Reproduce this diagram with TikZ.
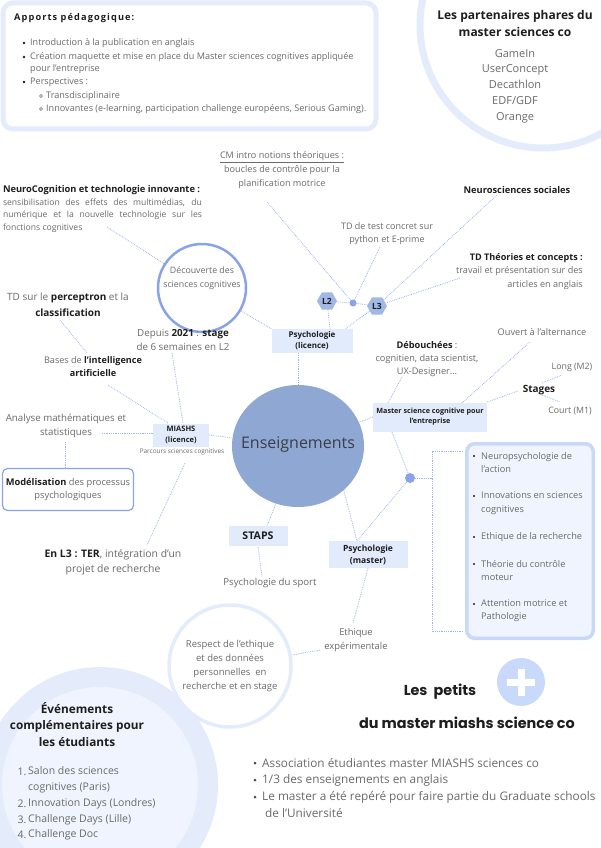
\documentclass[tikz,border=0pt]{standalone}
\usepackage{fontspec}
\setmainfont{Open Sans}
\newfontfamily\popfont{Poppins}
\newfontfamily\spacedfont{Open Sans}[LetterSpace=12]
\usetikzlibrary{shapes.geometric,calc,backgrounds}
\definecolor{lineblue}{HTML}{9DB4E8}
\definecolor{boxblue}{HTML}{E1EBFB}
\definecolor{ellblue}{HTML}{8FA7D3}
\definecolor{ringblue}{HTML}{E4ECFC}
\definecolor{paleblue}{HTML}{EFF4FE}
\definecolor{circblue}{HTML}{89A3E6}
\definecolor{hexblue}{HTML}{A2B8E4}
\definecolor{listborder}{HTML}{C8D8F8}
\definecolor{plusblue}{HTML}{C9D9F9}
\definecolor{tgray}{HTML}{6A6A6A}
\definecolor{tdark}{HTML}{1E1E1E}
\definecolor{enstext}{HTML}{3A3E4A}
\newcommand\myfs[2]{\fontsize{#1}{#2}\selectfont}
\newcommand\bk[1]{{\color{tdark}\bfseries #1}}
\begin{document}
\begin{tikzpicture}[x=1pt,y=-1pt,
  conn/.style={draw=lineblue, densely dotted, line width=0.8pt},
  txt/.style={text=tgray, inner sep=0pt, align=center},
  btxt/.style={text=tdark, inner sep=0pt, align=center},
  lbox/.style={fill=boxblue, inner sep=0pt, align=center, text=tdark},
  ltxt/.style={text=tgray, inner sep=0pt, anchor=west, align=left},
  dotnode/.style={circle, fill=circblue, inner sep=0pt},
  hexnode/.style={regular polygon, regular polygon sides=6, fill=hexblue, minimum size=20pt, inner sep=0pt, text=tdark, font=\bfseries\myfs{8.5}{9}},
]
\useasboundingbox (0,0) rectangle (600,848);

% ---------- top-left box ----------
\draw[draw=ringblue, line width=5pt, fill=white, rounded corners=10pt] (3,3) rectangle (376,129);
\node[anchor=west, text=tdark, inner sep=0pt] (apt) at (14,18) {\spacedfont\bfseries\myfs{9.2}{10}Apports pédagogique:};
\fill[tdark] (24,43) circle (1.3pt);
\fill[tdark] (24,57) circle (1.3pt);
\fill[tdark] (24,82) circle (1.3pt);
\draw[tgray, line width=0.5pt] (41,96) circle (1.6pt);
\draw[tgray, line width=0.5pt] (41,109) circle (1.6pt);
\node[ltxt, font=\myfs{9.1}{12.5}] (ap1) at (30,43) {Introduction à la publication en anglais};
\node[ltxt, font=\myfs{9.1}{12.5}] (ap2) at (30,63) {Création maquette et mise en place du Master sciences cognitives appliquée\\pour l'entreprise};
\node[ltxt, font=\myfs{9.1}{12.5}] (ap3) at (30,82) {Perspectives :};
\node[ltxt, font=\myfs{9.1}{12.5}] (ap4) at (46,96) {Transdisciplinaire};
\node[ltxt, font=\myfs{9.1}{12.5}] (ap5) at (46,109) {Innovantes (e-learning, participation challenge européens, Serious Gaming).};

% ---------- top-right ----------
\node[btxt, font=\bfseries\myfs{12}{17}] (part) at (515,24) {Les partenaires phares du\\master sciences co};
\node[txt, font=\myfs{11}{15.75}] (partl) at (515,86) {GameIn\\UserConcept\\Decathlon\\EDF/GDF\\Orange};

% ---------- central ----------
\node[ellipse, fill=ellblue, minimum width=132pt, minimum height=122pt, inner sep=0pt] (ens) at (298,446) {};
\node[inner sep=0pt, text=enstext, font=\myfs{16}{18}] (enst) at (298,445) {Enseignements};

\node[lbox, minimum width=81pt, minimum height=24pt, font=\bfseries\myfs{8}{11}] (psyL) at (312,341) {Psychologie\\(licence)};
\node[hexnode] (L2) at (327,301) {L2};
\node[hexnode] (L3) at (377,306) {L3};
\node[dotnode, minimum size=7pt] (dot1) at (353,303) {};

\node[circle, draw=circblue, line width=2.5pt, minimum size=88pt, inner sep=0pt] (decouv) at (202,288) {};
\node[txt, font=\myfs{8.8}{14}] (decouvt) at (202,278) {Découverte des\\sciences cognitives};

\node[txt, font=\myfs{9.1}{14}] (cm) at (282,170) {\underline{CM intro notions théoriques :}\\boucles de contrôle pour la\\planification motrice};
\node[inner sep=0pt, text width=199pt, align=justify, text=tgray, font=\myfs{8.6}{12.5}] (neur) at (102.5,209) {{\color{tdark}\bfseries\myfs{9.3}{12.5}NeuroCognition et technologie innovante :}\\sensibilisation des effets des multimédias, du\linebreak numérique et la nouvelle technologie sur les\linebreak fonctions cognitives};
\node[txt, font=\myfs{9}{13.5}] (tdtest) at (387,233.5) {TD de test concret sur\\python et E-prime};
\node[btxt, font=\bfseries\myfs{9.3}{10}] (neurosoc) at (517,190) {Neurosciences sociales};
\node[anchor=east, align=right, inner sep=0pt, text=tgray, font=\myfs{9.1}{13.5}] (tdth) at (583,271.5) {\bk{TD Théories et concepts :}\\travail et présentation sur des\\articles en anglais};

\node[txt, font=\myfs{9.2}{10}] (ouvert) at (542,332) {Ouvert à l'alternance};
\node[txt, font=\myfs{9.2}{13}] (debouch) at (427,359) {\bk{Débouchées} :\\cognitien, data scientist,\\UX-Designer…};
\node[lbox, minimum width=114pt, minimum height=29pt, font=\bfseries\myfs{7.2}{10}] (msc) at (430,417) {Master science cognitive pour\\l'entreprise};
\node[btxt, font=\bfseries\myfs{10}{10}] (stages) at (539,390) {Stages};
\node[txt, font=\myfs{8.8}{10}] (long) at (572,367) {Long (M2)};
\node[txt, font=\myfs{8.8}{10}] (court) at (570,411) {Court (M1)};
\node[dotnode, minimum size=10pt] (dot2) at (410,478) {};

% list box
\node[draw=listborder, line width=3.5pt, fill=paleblue, rounded corners=8pt, minimum width=126.5pt, minimum height=194.5pt, inner sep=0pt] (listbox) at (530,541) {};
\foreach \yy in {456,496,537,564,604} {\fill[tdark] (474,\yy) circle (1.2pt);}
\node[ltxt, font=\myfs{9.2}{13.5}] (li1) at (481,462.5) {Neuropsychologie de\\l'action};
\node[ltxt, font=\myfs{9.2}{13.5}] (li2) at (481,503) {Innovations en sciences\\cognitives};
\node[ltxt, font=\myfs{9.2}{13.5}] (li3) at (481,537) {Ethique de la recherche};
\node[ltxt, font=\myfs{9.2}{13.5}] (li4) at (481,570.5) {Théorie du contrôle\\moteur};
\node[ltxt, font=\myfs{9.2}{13.5}] (li5) at (481,610.5) {Attention motrice et\\Pathologie};

% left side
\node[lbox, minimum width=56pt, minimum height=23pt, font=\bfseries\myfs{7.5}{11.5}] (mia) at (181,435) {MIASHS\\(licence)};
\node[txt, font=\myfs{6.4}{7}] (parc) at (182,452) {Parcours sciences cognitives};
\node[txt, font=\myfs{9.7}{14}] (analyse) at (66,426) {Analyse mathématiques et\\statistiques};
\node[draw=circblue, line width=1.2pt, rounded corners=5pt, fill=white, minimum width=131pt, minimum height=42pt, inner sep=0pt, text=tgray, align=center, font=\myfs{9.3}{13}] (modbox) at (68,489.5) {\bk{Modélisation} des processus\\psychologiques};
\node[txt, font=\myfs{9.1}{13}] (bases) at (93,366.5) {Bases de \bk{l'intelligence}\\\bk{artificielle}};
\node[txt, font=\myfs{10}{16}] (perc) at (68,305) {TD sur le \bk{perceptron} et la\\\bk{classification}};
\node[txt, font=\myfs{9.8}{14}] (depuis) at (183,340) {Depuis \bk{2021} : \bk{stage}\\de 6 semaines en L2};
\node[txt, font=\myfs{10.4}{15}] (enl3) at (113,562.5) {\bk{En L3 : TER}, intégration d'un\\projet de recherche};

% bottom center
\node[lbox, minimum width=59pt, minimum height=20pt, font=\bfseries\myfs{10.6}{11}] (staps) at (258,536) {STAPS};
\node[txt, font=\myfs{9.6}{10}] (sport) at (270,583) {Psychologie du sport};
\node[lbox, minimum width=79pt, minimum height=27pt, font=\bfseries\myfs{8.5}{12}] (psyM) at (368,554.5) {Psychologie\\(master)};
\node[txt, font=\myfs{9.4}{14}] (eth) at (356,640) {Ethique\\expérimentale};
\node[circle, draw=ringblue, line width=3.5pt, fill=white, minimum size=122pt, inner sep=0pt, text=tgray, align=center, font=\myfs{9.5}{14}] (resp) at (230,666) {Respect de l'ethique\\et des données\\personnelles~ en\\recherche et en stage};

% bottom left
\node[btxt, font=\bfseries\myfs{11.8}{16.5}] (evt) at (77,724.5) {Événements\\complémentaires pour\\les étudiants};
\node[anchor=east, inner sep=0pt, text=tgray, font=\myfs{10.5}{10}] (n1) at (26.5,772) {1.};
\node[anchor=east, inner sep=0pt, text=tgray, font=\myfs{10.5}{10}] (n2) at (26.5,804) {2.};
\node[anchor=east, inner sep=0pt, text=tgray, font=\myfs{10.5}{10}] (n3) at (26.5,820) {3.};
\node[anchor=east, inner sep=0pt, text=tgray, font=\myfs{10.5}{10}] (n4) at (26.5,835) {4.};
\node[ltxt, font=\myfs{10.5}{16}] (e1) at (28,780) {Salon des sciences\\cognitives (Paris)};
\node[ltxt, font=\myfs{10.5}{10}] (e2) at (28,804) {Innovation Days (Londres)};
\node[ltxt, font=\myfs{10.5}{10}] (e3) at (28,820) {Challenge Days (Lille)};
\node[ltxt, font=\myfs{10.5}{10}] (e4) at (28,835) {Challenge Doc};

% bottom right
\node[circle, fill=plusblue, minimum size=48pt, inner sep=0pt] (plus) at (521,682) {};
\fill[white] (507,678.5) rectangle (535,686);
\fill[white] (517.5,668.5) rectangle (525,696);
\node[btxt, font=\popfont\bfseries\myfs{14.4}{16}] (petits) at (440,692) {Les~~petits};
\node[btxt, font=\popfont\bfseries\myfs{14.4}{16}] (petits2) at (467,723) {du master miashs science co};
\foreach \yy in {763,780,797} {\fill[tgray!70!black] (255,\yy) circle (1.5pt);}
\node[ltxt, font=\myfs{11.8}{12}] (b1) at (262,763) {Association étudiantes master MIASHS sciences co};
\node[ltxt, font=\myfs{11.8}{12}] (b2) at (262,780) {1/3 des enseignements en anglais};
\node[ltxt, font=\myfs{11.8}{12}] (b3) at (262,797) {Le master a été repéré pour faire partie du Graduate schools};
\node[ltxt, font=\myfs{11.8}{12}] (b4) at (265,813) {de l’Université};

% ---------- connector end points ----------
\coordinate (cmE) at (267,202);
\coordinate (tdtE) at (380,247);
\coordinate (nsE) at (497,195);
\coordinate (tdthE) at (460,278);
\coordinate (psyLa) at (330,329);
\coordinate (psyLb) at (345,329);
\coordinate (neurE) at (107,227);
\coordinate (debE) at (402,377);
\coordinate (mscA) at (388,403);
\coordinate (ouvE) at (530,342);
\coordinate (mscB) at (462,403);
\coordinate (stgW) at (518,391);
\coordinate (mscC) at (487,402);
\coordinate (stgA) at (542,383);
\coordinate (longE) at (562,375);
\coordinate (stgB) at (542,395);
\coordinate (courtE) at (560,402);
\coordinate (mscD) at (392,432);
\coordinate (brA) at (432,478);
\coordinate (brT) at (432,451);
\coordinate (brB) at (432,631);
\coordinate (listT) at (463,451);
\coordinate (listB) at (463,631);
\coordinate (psyMt) at (357,541);
\coordinate (stapsN) at (267,526);
\coordinate (stapsS) at (258,547);
\coordinate (sportE) at (262,577);
\coordinate (psyMb) at (368,568);
\coordinate (ethE) at (353,623);
\coordinate (ethW) at (320,650);
\coordinate (anaE) at (102,433);
\coordinate (anaS) at (65,442);
\coordinate (basesE) at (108,385);
\coordinate (miaA) at (168,423);
\coordinate (percE) at (60,320);
\coordinate (basesT) at (87,353);
\coordinate (depE) at (172,353);
\coordinate (miaT) at (183,423);
\coordinate (miaB) at (185,463);
\coordinate (enlE) at (147,545);

\begin{scope}[on background layer]
  \fill[white] (0,0) rectangle (600,848);
  \draw[ringblue, line width=7pt] (543,25) circle[radius=123pt];
  \fill[ringblue] (100,785) circle[radius=118pt];
  \fill[paleblue] (100,785) circle[radius=98pt];
  \draw[conn] (L2) -- (dot1) -- (L3);
  \draw[conn] (dot1) -- (cmE);
  \draw[conn] (dot1) -- (tdtE);
  \draw[conn] (L3) -- (nsE);
  \draw[conn] (L3) -- (tdthE);
  \draw[conn] (L2) -- (psyLa);
  \draw[conn] (L3) -- (psyLb);
  \draw[conn] (psyL.south -| ens.north) -- (ens.north);
  \draw[conn] (decouv) -- (psyL.north west);
  \draw[conn] (neurE) -- (decouv);
  \draw[conn] (msc.west) -- (ens);
  \draw[conn] (mscA) -- (debE);
  \draw[conn] (mscB) -- (ouvE);
  \draw[conn] (mscC) -- (stgW);
  \draw[conn] (stgA) -- (longE);
  \draw[conn] (stgB) -- (courtE);
  \draw[conn] (mscD) -- (dot2);
  \draw[conn] (dot2) -- (brA);
  \draw[conn] (listT) -- (brT) -- (brB) -- (listB);
  \draw[conn] (dot2) -- (psyMt);
  \draw[conn] (ens.-44) -- (psyMt);
  \draw[conn] (ens.-111) -- (stapsN);
  \draw[conn] (stapsS) -- (sportE);
  \draw[conn] (psyMb) -- (ethE);
  \draw[conn] (ethW) -- (resp);
  \draw[conn] (mia.east) -- (ens);
  \draw[conn] (anaE) -- (mia.west |- anaE);
  \draw[conn] (anaS) -- (modbox.north -| anaS);
  \draw[conn] (basesE) -- (miaA);
  \draw[conn] (percE) -- (basesT);
  \draw[conn] (depE) -- (miaT);
  \draw[conn] (miaB) -- (enlE);
\end{scope}
\end{tikzpicture}
\end{document}
